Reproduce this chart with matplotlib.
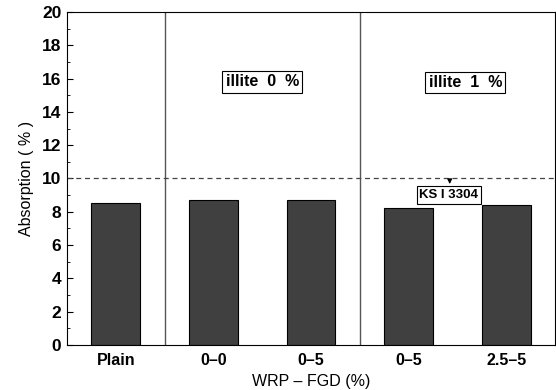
import matplotlib
matplotlib.use("Agg")
import matplotlib.pyplot as plt
from matplotlib.ticker import MultipleLocator

plt.rcParams['font.family'] = ['Liberation Sans', 'DejaVu Sans']

kategorie = ["Plain", "0\u20130", "0\u20135", "0\u20135", "2.5\u20135"]
absorpcja = [8.53, 8.72, 8.72, 8.2, 8.4]
norma = 10
grupy = ["illite  0  %", "illite  1  %"]

fig = plt.figure(figsize=(5.56, 3.9), dpi=100)
ax = fig.add_axes([0.1205, 0.1154, 0.878, 0.854])

x = list(range(len(kategorie)))
ax.bar(x, absorpcja, width=0.5, color="#404040", edgecolor="black", linewidth=0.8, zorder=2)

# linie oddzielajace grupy
ax.axvline(0.5, color="#555555", linewidth=1)
ax.axvline(2.5, color="#555555", linewidth=1)
ax.axhline(norma, color="#444444", linestyle=(0, (4, 3)), linewidth=0.9)

box = dict(boxstyle="square,pad=0.2", facecolor="white", edgecolor="black", linewidth=0.8)
ax.text(1.5, 15.8, grupy[0], ha="center", va="center", fontsize=11.5, fontweight="bold", bbox=box)
ax.text(3.58, 15.75, grupy[1], ha="center", va="center", fontsize=11.5, fontweight="bold", bbox=box)
ax.annotate("", xy=(3.42, 9.5), xytext=(3.42, 10),
            arrowprops=dict(arrowstyle="-|>", color="black", lw=0.8, mutation_scale=7))
ax.text(3.41, 9.0, "KS I 3304", ha="center", va="center", fontsize=9.5, fontweight="bold", bbox=box)

ax.set_xlim(-0.5, 4.5)
ax.set_ylim(0, 20)
ax.set_xticks(x)
ax.set_xticklabels(kategorie, fontweight="bold", fontsize=11.5)
ax.yaxis.set_major_locator(MultipleLocator(2))
ax.yaxis.set_minor_locator(MultipleLocator(1))
for lab in ax.get_yticklabels():
    lab.set_fontweight("bold")
    lab.set_fontsize(12.5)
ax.tick_params(axis="y", direction="in", length=4, pad=4)
ax.tick_params(axis="y", which="minor", direction="in", length=2)
ax.tick_params(axis="x", length=0, pad=6)
ax.set_xlabel("WRP \u2013 FGD (%)", fontsize=11.5, labelpad=4)
ax.set_ylabel("Absorption ( % )", fontsize=11.5, labelpad=6)

fig.savefig("out.png", dpi=100)
